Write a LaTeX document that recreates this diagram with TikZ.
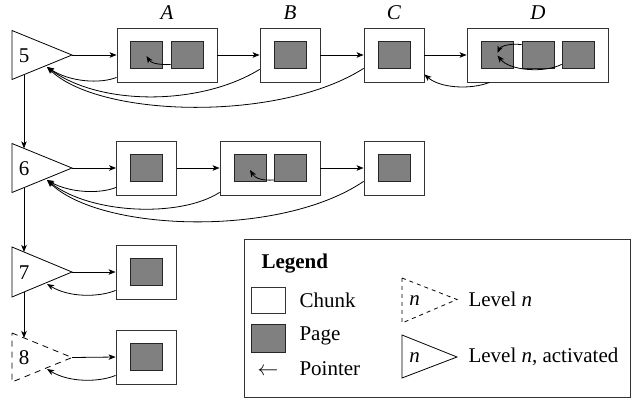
\documentclass[tikz,border=0pt]{standalone}
\usepackage{fontspec}
\setmainfont{Liberation Serif}
\usetikzlibrary{arrows.meta}
\begin{document}
\begin{tikzpicture}[x=1pt,y=-1pt,
  every node/.style={font=\fontsize{21}{25}\selectfont},
  chunk/.style={draw=black!80, line width=0.8pt, fill=white, minimum height=54pt, inner sep=0pt},
  page/.style={draw=black!85, line width=0.8pt, fill=black!50, minimum width=32pt, minimum height=27pt, inner sep=0pt},
  ptr/.style={-{Stealth[length=7pt,width=5.5pt,inset=1.8pt]}, line width=0.8pt},
  lvl/.style={line width=0.8pt, line join=miter},
  lvldash/.style={lvl, dash pattern=on 6pt off 5pt},
  lab/.style={anchor=base},
]
\useasboundingbox (0,0) rectangle (632,408);

% ---------- level 5 ----------
\draw[lvl] (12,30.5) -- (72,55) -- (12,79.5) -- cycle;
\node[lab] (L5) at (24,62) {5};
\coordinate (t5) at (72,55);
\coordinate (d5) at (24,74.6);
\coordinate (r5) at (47,67);

\node[chunk, minimum width=100pt] (A) at (167,55) {};
\node[chunk, minimum width=60pt] (B) at (290,55) {};
\node[chunk, minimum width=60pt] (C) at (394,55) {};
\node[chunk, minimum width=141pt] (D) at (537.5,55) {};
\node[page] (A1) at (146.5,54.5) {};
\node[page] (A2) at (187,54.5) {};
\node[page] (B1) at (290,54.5) {};
\node[page] (C1) at (394,54.5) {};
\node[page] (D1) at (497.5,54.5) {};
\node[page] (D2) at (538,54.5) {};
\node[page] (D3) at (578,54.5) {};

\node[lab] (lA) at (167,19) {\textit{A}};
\node[lab] (lB) at (290,19) {\textit{B}};
\node[lab] (lC) at (394,19) {\textit{C}};
\node[lab] (lD) at (538,19) {\textit{D}};

\draw[ptr] (t5) -- (A.west);
\draw[ptr] (A.east) -- (B.west);
\draw[ptr] (B.east) -- (C.west);
\draw[ptr] (C.east) -- (D.west);

\draw[ptr] ([yshift=5pt]A.south west) .. controls (100,84) and (70,82) .. (r5);
\draw[ptr] ([yshift=13pt]B.south west) .. controls (200,106) and (100,106) .. (r5);
\draw[ptr] ([yshift=14pt]C.south west) .. controls (280,122) and (100,118) .. (r5);
\draw[ptr] ([xshift=23pt]D.south west) .. controls (470,90) and (440,88) .. ([yshift=8pt]C.south east);

\draw[ptr] ([yshift=4pt]A2.south west) .. controls (158,65) and (151,63) .. ([yshift=-1.5pt]A1.center);
\draw[ptr] ([yshift=-4pt]D2.north west) .. controls (508,43) and (500,47) .. ([yshift=1.5pt]D1.center);
\draw[ptr] ([yshift=4pt]D3.south west) .. controls (545,73) and (510,71) .. ([yshift=-1pt]D1.center);

% ---------- level 6 ----------
\draw[lvl] (12,143.5) -- (72,168) -- (12,192.5) -- cycle;
\node[lab] (L6) at (24,175.5) {6};
\coordinate (t6) at (72,168);
\coordinate (u6) at (24,148.4);
\coordinate (d6) at (24,187.6);
\coordinate (r6) at (47,180);

\node[chunk, minimum width=60pt] (E1) at (146.5,168) {};
\node[chunk, minimum width=100pt] (E2) at (270,168) {};
\node[chunk, minimum width=60pt] (E3) at (394,168) {};
\node[page] (E1p) at (146.5,168) {};
\node[page] (E2a) at (250,168) {};
\node[page] (E2b) at (290.5,168) {};
\node[page] (E3p) at (394,168) {};

\draw[ptr] (t6) -- (E1.west);
\draw[ptr] (E1.east) -- (E2.west);
\draw[ptr] (E2.east) -- (E3.west);

\draw[ptr] ([yshift=8pt]E1.south west) .. controls (100,194) and (70,193) .. (r6);
\draw[ptr] ([yshift=3pt]E2.south west) .. controls (180,218) and (90,214) .. (r6);
\draw[ptr] ([yshift=14pt]E3.south west) .. controls (280,238) and (100,232) .. (r6);
\draw[ptr] ([yshift=2pt]E2b.south west) .. controls (262,181) and (255,178) .. ([yshift=-2pt]E2a.center);

% ---------- level 7 ----------
\draw[lvl] (12,247) -- (72,272) -- (12,297) -- cycle;
\node[lab] (L7) at (24,279.5) {7};
\coordinate (t7) at (72,272);
\coordinate (u7) at (24,252);
\coordinate (d7) at (24,292);
\coordinate (r7) at (47,284);

\node[chunk, minimum width=60pt] (F) at (146,272) {};
\node[page] (Fp) at (146.5,272) {};
\draw[ptr] (t7) -- (F.west);
\draw[ptr] ([yshift=9pt]F.south west) .. controls (100,297) and (70,298) .. (r7);

% ---------- level 8 ----------
\draw[lvldash] (12,333) -- (72,357.5) -- (12,382) -- cycle;
\node[lab] (L8) at (24,364.5) {8};
\coordinate (t8) at (72,357.5);
\coordinate (u8) at (24,338);
\coordinate (r8) at (47,369);

\node[chunk, minimum width=60pt] (G) at (146,357) {};
\node[page] (Gp) at (146.5,357) {};
\draw[ptr] (t8) -- (G.west);
\draw[ptr] ([yshift=9pt]G.south west) .. controls (100,382) and (70,383) .. (r8);

% vertical links
\draw[ptr] (d5) -- (u6);
\draw[ptr] (d6) -- (u7);
\draw[ptr] (d7) -- (u8);

% ---------- legend ----------
\node[draw=black!80, line width=0.8pt, minimum width=386pt, minimum height=158pt, inner sep=0pt] (leg) at (437,318) {};
\node[anchor=base west, font=\fontsize{21}{25}\selectfont\bfseries] (legT) at (258,268) {Legend};
\node[chunk, minimum width=34pt, minimum height=26pt] (lc) at (268,300) {};
\node[page, minimum width=34pt, minimum height=28pt] (lp) at (268,338) {};
\node[anchor=base] (lptr) at (268,375) {$\leftarrow$};
\node[anchor=base west] (tc) at (296,307) {Chunk};
\node[anchor=base west] (tp) at (296,340) {Page};
\node[anchor=base west] (tptr) at (296,375) {Pointer};

\draw[lvl, dash pattern=on 4pt off 4pt] (402,278) -- (457,299.5) -- (402,323) -- cycle;
\node[lab] (ln1) at (414.5,305) {\textit{n}};
\node[anchor=base west] (tl1) at (465,306) {Level \textit{n}};
\draw[lvl] (402,335) -- (457,357) -- (402,378) -- cycle;
\node[lab] (ln2) at (414.5,362) {\textit{n}};
\node[anchor=base west] (tl2) at (465,362) {Level \textit{n}, activated};
\end{tikzpicture}
\end{document}
